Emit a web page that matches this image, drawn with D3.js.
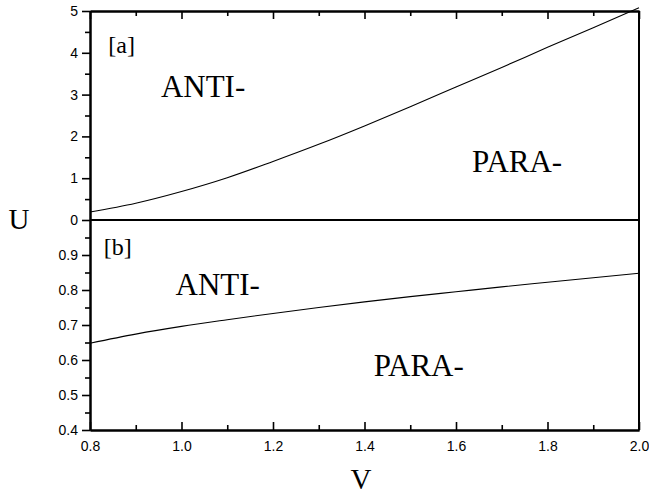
<!DOCTYPE html>
<html>
<head>
<meta charset="utf-8">
<script src="https://cdn.jsdelivr.net/npm/d3@7"></script>
<style>
  html, body { margin: 0; padding: 0; background: #fff; }
  svg { display: block; }
  .tick text { font-family: "Liberation Sans", Arial, sans-serif; font-size: 14px; fill: #000; }
  .serif { font-family: "Liberation Serif", "Times New Roman", serif; fill: #000; }
</style>
</head>
<body>
<svg id="chart" width="649" height="497"></svg>
<script>
// ---- data ----
const vValues = [0.8, 0.9, 1.0, 1.1, 1.2, 1.3, 1.4, 1.5, 1.6, 1.7, 1.8, 1.9, 2.0];
const uBoundaryA = [0.19, 0.40, 0.68, 1.01, 1.40, 1.81, 2.25, 2.71, 3.18, 3.65, 4.13, 4.60, 5.08];
const uBoundaryB = [0.648, 0.674, 0.696, 0.715, 0.733, 0.750, 0.766, 0.781, 0.795, 0.809, 0.822, 0.835, 0.848];

const xTicks = [0.8, 1.0, 1.2, 1.4, 1.6, 1.8, 2.0];
const xMinorTicks = [0.9, 1.1, 1.3, 1.5, 1.7, 1.9];
const yTicksA = [0, 1, 2, 3, 4, 5];
const yMinorTicksA = [0.5, 1.5, 2.5, 3.5, 4.5];
const yTicksB = [0.4, 0.5, 0.6, 0.7, 0.8, 0.9];
const yMinorTicksB = [0.45, 0.55, 0.65, 0.75, 0.85, 0.95];

const panelLabels = [
  { panel: "a", text: "[a]", v: 0.84, u: 4.0, size: 24 },
  { panel: "a", text: "ANTI-", v: 0.955, u: 2.94, size: 31 },
  { panel: "a", text: "PARA-", v: 1.635, u: 1.15, size: 31 },
  { panel: "b", text: "[b]", v: 0.83, u: 0.9, size: 24 },
  { panel: "b", text: "ANTI-", v: 0.987, u: 0.786, size: 31 },
  { panel: "b", text: "PARA-", v: 1.42, u: 0.553, size: 31 }
];

// ---- layout ----
const svg = d3.select("#chart");
const mLeft = 90, mRight = 639, mTop = 11, mMid = 220, mBottom = 430;

const x = d3.scaleLinear().domain([0.8, 2.0]).range([mLeft, mRight]);
const yA = d3.scaleLinear().domain([0, 5]).range([mMid, mTop]);
const yB = d3.scaleLinear().domain([0.4, 1.0]).range([mBottom, mMid]);

function styleAxis(g, width) {
  g.select(".domain").attr("stroke", "#000").attr("stroke-width", width);
  g.selectAll(".tick line").attr("stroke", "#000").attr("stroke-width", 1.6);
}

// left axis, panel a
svg.append("g").attr("transform", `translate(${mLeft},0)`)
  .call(d3.axisLeft(yA).tickValues(yTicksA).tickSize(8).tickSizeOuter(0).tickPadding(4).tickFormat(d3.format("d")))
  .call(g => styleAxis(g, 2));
svg.append("g").attr("transform", `translate(${mLeft},0)`)
  .call(d3.axisLeft(yA).tickValues(yMinorTicksA).tickSize(5).tickSizeOuter(0).tickFormat(""))
  .call(g => styleAxis(g, 2));

// left axis, panel b
svg.append("g").attr("transform", `translate(${mLeft},0)`)
  .call(d3.axisLeft(yB).tickValues(yTicksB).tickSize(8).tickSizeOuter(0).tickPadding(4).tickFormat(d3.format(".1f")))
  .call(g => styleAxis(g, 2));
svg.append("g").attr("transform", `translate(${mLeft},0)`)
  .call(d3.axisLeft(yB).tickValues(yMinorTicksB).tickSize(5).tickSizeOuter(0).tickFormat(""))
  .call(g => styleAxis(g, 2));

// bottom axis (inward ticks)
svg.append("g").attr("transform", `translate(0,${mBottom})`)
  .call(d3.axisBottom(x).tickValues(xTicks).tickSize(-8).tickSizeOuter(0).tickPadding(11).tickFormat(d3.format(".1f")))
  .call(g => styleAxis(g, 2));
svg.append("g").attr("transform", `translate(0,${mBottom})`)
  .call(d3.axisBottom(x).tickValues(xMinorTicks).tickSize(-5).tickSizeOuter(0).tickFormat(""))
  .call(g => styleAxis(g, 2));

// top axis (inward ticks, no labels)
svg.append("g").attr("transform", `translate(0,${mTop})`)
  .call(d3.axisTop(x).tickValues(xTicks).tickSize(-8).tickSizeOuter(0).tickFormat(""))
  .call(g => styleAxis(g, 2));
svg.append("g").attr("transform", `translate(0,${mTop})`)
  .call(d3.axisTop(x).tickValues(xMinorTicks).tickSize(-5).tickSizeOuter(0).tickFormat(""))
  .call(g => styleAxis(g, 2));

// right border
svg.append("line").attr("x1", mRight).attr("x2", mRight).attr("y1", mTop).attr("y2", mBottom)
  .attr("stroke", "#000").attr("stroke-width", 2);
// panel divider (U = 0 / 1.0)
svg.append("line").attr("x1", mLeft).attr("x2", mRight).attr("y1", yA(0)).attr("y2", yA(0))
  .attr("stroke", "#000").attr("stroke-width", 2);

// curves
const lineA = d3.line().x((d, i) => x(vValues[i])).y(d => yA(d)).curve(d3.curveMonotoneX);
const lineB = d3.line().x((d, i) => x(vValues[i])).y(d => yB(d)).curve(d3.curveMonotoneX);
svg.append("path").attr("d", lineA(uBoundaryA)).attr("fill", "none").attr("stroke", "#000").attr("stroke-width", 1.1);
svg.append("path").attr("d", lineB(uBoundaryB)).attr("fill", "none").attr("stroke", "#000").attr("stroke-width", 1.1);

// region labels
panelLabels.forEach(l => {
  const yy = l.panel === "a" ? yA(l.u) : yB(l.u);
  svg.append("text").attr("class", "serif")
    .attr("x", x(l.v)).attr("y", yy)
    .attr("font-size", l.size)
    .text(l.text);
});

// axis titles
svg.append("text").attr("class", "serif").attr("x", 19).attr("y", 229)
  .attr("text-anchor", "middle").attr("font-size", 29).text("U");
svg.append("text").attr("class", "serif").attr("x", 361).attr("y", 489)
  .attr("text-anchor", "middle").attr("font-size", 29).text("V");
</script>
</body>
</html>
